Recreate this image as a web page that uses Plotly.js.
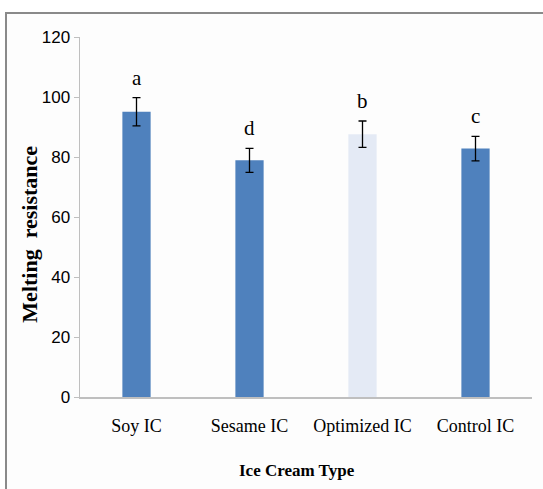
<!DOCTYPE html>
<html>
<head>
<meta charset="utf-8">
<script src="https://cdn.plot.ly/plotly-3.0.1.min.js"></script>
<style>
  html, body { margin: 0; padding: 0; background: #ffffff; width: 543px; height: 489px; overflow: hidden; }
  #frame { position: absolute; left: 5px; top: 12px; width: 538px; height: 477px;
           border-top: 2px solid #8a8a8a; border-left: 2px solid #8a8a8a; box-sizing: border-box; background: #fdfdfd; }
  #chart { position: absolute; left: 0; top: 0; }
</style>
</head>
<body>
<div id="frame"><div id="chart"></div></div>
<script>
const categories = ["Soy IC", "Sesame IC", "Optimized IC", "Control IC"];
const meltingResistance = [95.1, 78.9, 87.6, 82.8];
const errorValues = [4.7, 4.0, 4.4, 4.1];
const groupLetters = ["a", "d", "b", "c"];
const barColors = ["#4F81BD", "#4F81BD", "#E4EAF5", "#4F81BD"];
const yTickValues = [0, 20, 40, 60, 80, 100, 120];
const xTitle = "Ice Cream Type";
const yTitle = "Melting  resistance";

const serif = "Liberation Serif, Times New Roman, serif";

const trace = {
  type: "bar",
  x: categories,
  y: meltingResistance,
  marker: { color: barColors, line: { width: 0 } },
  error_y: { type: "data", array: errorValues, visible: true, color: "#000000", thickness: 1.3, width: 4 },
  hoverinfo: "skip"
};

const annotations = categories.map((c, i) => ({
  x: c, y: meltingResistance[i] + errorValues[i], xref: "x", yref: "y",
  text: groupLetters[i], showarrow: false, yanchor: "bottom", yshift: 6,
  font: { family: serif, size: 21, color: "#000000" }
}));
annotations.push({
  xref: "paper", yref: "paper", x: 0.48, y: -0.203, xanchor: "center", yanchor: "middle",
  text: "<b>" + xTitle + "</b>", showarrow: false,
  font: { family: serif, size: 17, color: "#000000" }
});
annotations.push({
  xref: "paper", yref: "paper", x: -0.1106, y: 0.451, xanchor: "center", yanchor: "middle",
  text: "<b>" + yTitle + "</b>", showarrow: false, textangle: -90,
  font: { family: serif, size: 22, color: "#000000" }
});

const layout = {
  width: 536, height: 475,
  margin: { l: 73, r: 11, t: 23, b: 92 },
  paper_bgcolor: "rgba(0,0,0,0)",
  plot_bgcolor: "rgba(0,0,0,0)",
  showlegend: false,
  bargap: 0.75,
  xaxis: {
    type: "category",
    showline: true, linecolor: "#BFBFBF", linewidth: 1.5,
    ticks: "", showgrid: false, zeroline: false,
    ticklabelstandoff: 12,
    tickfont: { family: serif, size: 18, color: "#000000" },
    automargin: false
  },
  yaxis: {
    range: [0, 120], tickvals: yTickValues,
    showline: true, linecolor: "#BFBFBF", linewidth: 1.5,
    ticks: "outside", ticklen: 5, tickcolor: "#BFBFBF",
    showgrid: false, zeroline: false,
    tickfont: { family: "Liberation Sans Narrow, Arial Narrow, Liberation Sans, sans-serif", size: 17, color: "#000000" },
    automargin: false
  },
  annotations: annotations
};

Plotly.newPlot("chart", [trace], layout, { displayModeBar: false, staticPlot: true });
</script>
</body>
</html>
